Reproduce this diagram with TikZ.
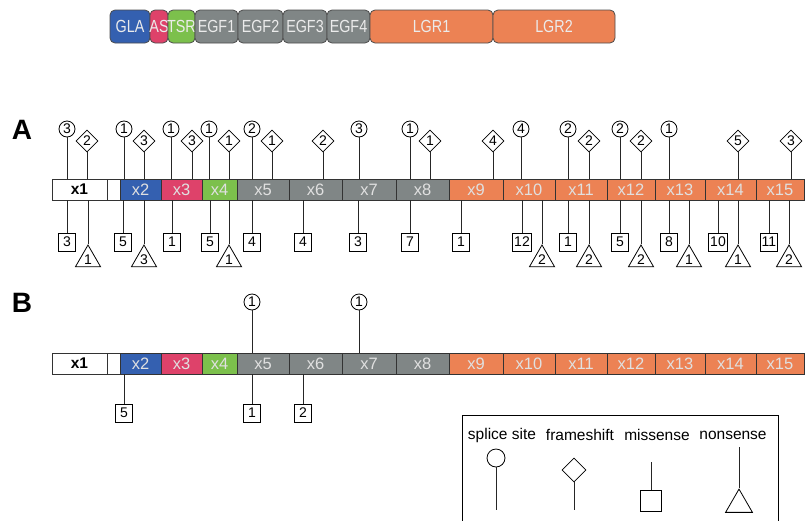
\documentclass[tikz,border=0pt]{standalone}
\usepackage{fontspec}
\setmainfont{Liberation Sans}
\usetikzlibrary{shapes.geometric, positioning}
\definecolor{glaBlue}{RGB}{52,96,176}
\definecolor{asRed}{RGB}{222,66,106}
\definecolor{tsrGreen}{RGB}{124,192,76}
\definecolor{egfGray}{RGB}{128,134,134}
\definecolor{lgrOrange}{RGB}{236,130,84}
\newcommand{\domtxt}[1]{\makebox[0pt]{\scalebox{0.82}[1]{#1}}}
\tikzset{
  dom/.style ={rectangle, rounded corners=5pt, draw=black!70, line width=0.8pt, minimum height=33pt, inner sep=0pt, outer sep=0pt, text=white!92!black, font=\fontsize{17.5}{17.5}\selectfont},
  exn/.style ={rectangle, draw=black!80, line width=0.7pt, minimum height=21pt, inner sep=0pt, outer sep=0pt, text=white!88!black, font=\fontsize{16.5}{16.5}\selectfont},
  spl/.style ={circle, draw, line width=0.8pt, minimum size=16pt, inner sep=0pt, font=\fontsize{14}{14}\selectfont},
  fsh/.style ={diamond, draw, line width=0.8pt, minimum width=22pt, minimum height=22pt, inner sep=0pt, font=\fontsize{14}{14}\selectfont},
  mis/.style ={rectangle, draw, line width=0.8pt, minimum width=17pt, minimum height=18pt, inner sep=1.5pt, font=\fontsize{14}{14}\selectfont},
  non/.style ={regular polygon, regular polygon sides=3, draw, line width=0.8pt, minimum size=29pt, inner sep=0pt, font=\fontsize{14}{14}\selectfont},
  stem/.style={line width=1pt, black!85},
  lbl/.style ={font=\bfseries\fontsize{28}{28}\selectfont},
  key/.style ={font=\fontsize{15.5}{15.5}\selectfont},
}
\begin{document}
\begin{tikzpicture}[x=1pt, y=-1pt]
  \useasboundingbox (0,0) rectangle (806,520);
  \node[dom, fill=glaBlue, minimum width=40pt] (gla) at (130,26.5) {\domtxt{GLA}};
  \node[dom, fill=asRed, minimum width=18pt, right=0pt of gla] (as) {\domtxt{AS}};
  \node[dom, fill=tsrGreen, minimum width=27pt, right=0pt of as] (tsr) {\domtxt{TSR}};
  \node[dom, fill=egfGray, minimum width=43pt, right=0pt of tsr] (egf1) {\domtxt{EGF1}};
  \node[dom, fill=egfGray, minimum width=45pt, right=0pt of egf1] (egf2) {\domtxt{EGF2}};
  \node[dom, fill=egfGray, minimum width=44pt, right=0pt of egf2] (egf3) {\domtxt{EGF3}};
  \node[dom, fill=egfGray, minimum width=43pt, right=0pt of egf3] (egf4) {\domtxt{EGF4}};
  \node[dom, fill=lgrOrange, minimum width=123pt, right=0pt of egf4] (lgr1) {\domtxt{LGR1}};
  \node[dom, fill=lgrOrange, minimum width=122pt, right=0pt of lgr1] (lgr2) {\domtxt{LGR2}};

  \node[lbl] (labA) at (22,130) {A};
  \node[lbl] (labB) at (22,303) {B};
  \coordinate (topA) at (0,179);
  \coordinate (botA) at (0,200);
  \coordinate (topB) at (0,353);
  \coordinate (botB) at (0,374);

  \foreach \r/\yc in {A/189.5, B/363.5} {
    \node[exn, fill=white, text=black, font=\bfseries\fontsize{15.5}{15.5}\selectfont, minimum width=55pt] (\r1) at (79.5,\yc) {x1};
    \node[exn, fill=white, minimum width=13pt] (\r0) at (113.5,\yc) {};
    \foreach \a/\b/\c/\t in {120/161/glaBlue/2, 161/202/asRed/3, 202/237/tsrGreen/4,
        237/289/egfGray/5, 289/342/egfGray/6, 342/396/egfGray/7, 396/449/egfGray/8,
        449/503/lgrOrange/9, 503/555/lgrOrange/10, 555/607/lgrOrange/11, 607/655/lgrOrange/12,
        655/705/lgrOrange/13, 705/756/lgrOrange/14, 756/804/lgrOrange/15}
      \node[exn, fill=\c, minimum width={(\b-\a)*1pt}] (\r\t) at ({(\a+\b)/2},\yc) {x\t};
  }

  \foreach \x/\n [count=\i] in {67/3, 124/1, 171/1, 209/1, 252/2, 359/3, 410/1, 521/4, 568/2, 620/2, 669/1} {
    \node[spl] (As\i) at (\x,129) {\n};
    \draw[stem] (As\i) -- (As\i |- topA);
  }
  \foreach \x/\n [count=\i] in {87/2, 144/3, 192/3, 229/1, 272/1, 323/2, 430/1, 493/4, 589/2, 641/2, 738/5, 791/3} {
    \node[fsh] (Af\i) at (\x,141) {\n};
    \draw[stem] (Af\i) -- (Af\i |- topA);
  }
  \foreach \x/\n [count=\i] in {67/3, 123/5, 172/1, 210/5, 252/4, 303/4, 358/3, 410/7, 461/1, 522/12, 568/1, 620/5, 669/8, 718/10, 769/11} {
    \node[mis] (Am\i) at (\x,242) {\n};
    \draw[stem] (Am\i) -- (Am\i |- botA);
  }
  \foreach \x/\n [count=\i] in {88/1, 144/3, 229/1, 542/2, 589/2, 641/2, 689/1, 738/1, 789/2} {
    \node[non] (An\i) at (\x,259.5) {\n};
    \draw[stem] (An\i.corner 1) -- (An\i.corner 1 |- botA);
  }

  \foreach \x/\n [count=\i] in {252/1, 359/1} {
    \node[spl] (Bs\i) at (\x,302) {\n};
    \draw[stem] (Bs\i) -- (Bs\i |- topB);
  }
  \foreach \x/\n [count=\i] in {124/5, 252/1, 303/2} {
    \node[mis] (Bm\i) at (\x,413) {\n};
    \draw[stem] (Bm\i) -- (Bm\i |- botB);
  }

  \draw[line width=0.8pt] (462,522) |- (778,415) -- (778,522);
  \node[key] (kS) at (502,435) {splice site};
  \node[key] (kF) at (580,435) {frameshift};
  \node[key] (kM) at (657,435) {missense};
  \node[key] (kN) at (733,435) {nonsense};
  \node[spl, minimum size=18pt] (kSn) at (496,458) {};
  \node[fsh, minimum width=24pt, minimum height=24pt] (kFn) at (574,470) {};
  \node[mis, minimum width=21pt, minimum height=21pt] (kMn) at (651,500.5) {};
  \node[non, minimum size=31pt] (kNn) at (739,504.6) {};
  \coordinate (kSe) at (496,510);
  \coordinate (kFe) at (574,510);
  \coordinate (kMe) at (651,462);
  \coordinate (kNe) at (739,447);
  \draw[stem] (kSn) -- (kSe);
  \draw[stem] (kFn) -- (kFe);
  \draw[stem] (kMn) -- (kMe);
  \draw[stem] (kNn.corner 1) -- (kNe);
\end{tikzpicture}
\end{document}
